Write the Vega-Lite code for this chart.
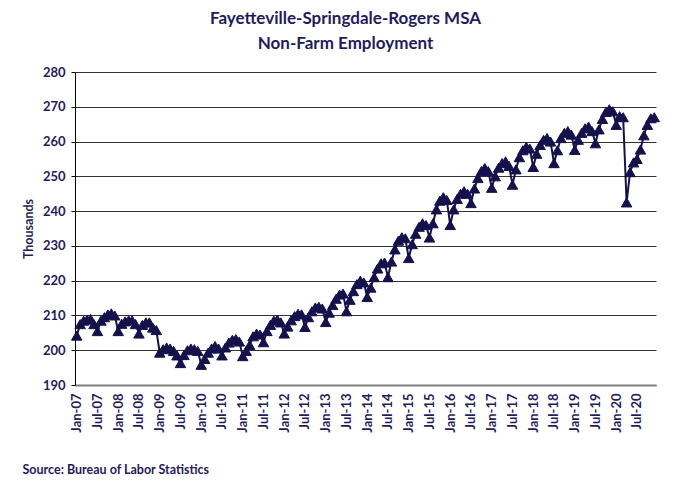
{
  "$schema": "https://vega.github.io/schema/vega-lite/v6.json",
  "width": 581,
  "height": 313,
  "autosize": {"type": "none"},
  "padding": {"left": 75, "top": 72, "right": 32, "bottom": 96},
  "background": "white",
  "config": {"view": {"stroke": null}, "font": "Lato"},
  "title": {
    "text": ["Fayetteville-Springdale-Rogers MSA", "Non-Farm Employment"],
    "font": "Lato", "fontSize": 17, "fontWeight": "bold", "color": "#1f1c5c",
    "anchor": "middle", "dx": -20, "offset": 13, "lineHeight": 25
  },
  "data": {"values": [
    {"m":"Jan-07","v":204.2},{"m":"Feb-07","v":207.5},{"m":"Mar-07","v":208.5},{"m":"Apr-07","v":208.8},{"m":"May-07","v":209.0},{"m":"Jun-07","v":207.5},{"m":"Jul-07","v":205.5},{"m":"Aug-07","v":208.5},{"m":"Sep-07","v":209.5},{"m":"Oct-07","v":210.3},{"m":"Nov-07","v":210.6},{"m":"Dec-07","v":210.0},
    {"m":"Jan-08","v":205.5},{"m":"Feb-08","v":207.6},{"m":"Mar-08","v":208.3},{"m":"Apr-08","v":208.6},{"m":"May-08","v":208.6},{"m":"Jun-08","v":207.5},{"m":"Jul-08","v":204.8},{"m":"Aug-08","v":207.3},{"m":"Sep-08","v":208.0},{"m":"Oct-08","v":208.0},{"m":"Nov-08","v":206.5},{"m":"Dec-08","v":205.8},
    {"m":"Jan-09","v":199.3},{"m":"Feb-09","v":200.3},{"m":"Mar-09","v":200.8},{"m":"Apr-09","v":200.5},{"m":"May-09","v":199.8},{"m":"Jun-09","v":198.5},{"m":"Jul-09","v":196.3},{"m":"Aug-09","v":198.6},{"m":"Sep-09","v":200.0},{"m":"Oct-09","v":200.5},{"m":"Nov-09","v":200.3},{"m":"Dec-09","v":199.8},
    {"m":"Jan-10","v":195.8},{"m":"Feb-10","v":197.5},{"m":"Mar-10","v":199.3},{"m":"Apr-10","v":200.5},{"m":"May-10","v":201.2},{"m":"Jun-10","v":200.5},{"m":"Jul-10","v":198.5},{"m":"Aug-10","v":200.8},{"m":"Sep-10","v":202.2},{"m":"Oct-10","v":203.0},{"m":"Nov-10","v":203.2},{"m":"Dec-10","v":202.5},
    {"m":"Jan-11","v":198.3},{"m":"Feb-11","v":199.8},{"m":"Mar-11","v":201.5},{"m":"Apr-11","v":204.0},{"m":"May-11","v":204.8},{"m":"Jun-11","v":204.5},{"m":"Jul-11","v":202.3},{"m":"Aug-11","v":205.5},{"m":"Sep-11","v":207.3},{"m":"Oct-11","v":208.5},{"m":"Nov-11","v":208.8},{"m":"Dec-11","v":208.0},
    {"m":"Jan-12","v":204.8},{"m":"Feb-12","v":206.8},{"m":"Mar-12","v":208.6},{"m":"Apr-12","v":209.8},{"m":"May-12","v":210.5},{"m":"Jun-12","v":210.3},{"m":"Jul-12","v":206.7},{"m":"Aug-12","v":209.5},{"m":"Sep-12","v":211.2},{"m":"Oct-12","v":212.3},{"m":"Nov-12","v":212.5},{"m":"Dec-12","v":212.0},
    {"m":"Jan-13","v":208.1},{"m":"Feb-13","v":210.8},{"m":"Mar-13","v":213.0},{"m":"Apr-13","v":214.8},{"m":"May-13","v":216.0},{"m":"Jun-13","v":216.3},{"m":"Jul-13","v":211.2},{"m":"Aug-13","v":214.5},{"m":"Sep-13","v":217.0},{"m":"Oct-13","v":219.0},{"m":"Nov-13","v":220.0},{"m":"Dec-13","v":219.5},
    {"m":"Jan-14","v":215.3},{"m":"Feb-14","v":218.0},{"m":"Mar-14","v":221.0},{"m":"Apr-14","v":223.5},{"m":"May-14","v":225.0},{"m":"Jun-14","v":225.2},{"m":"Jul-14","v":221.0},{"m":"Aug-14","v":225.5},{"m":"Sep-14","v":229.0},{"m":"Oct-14","v":231.5},{"m":"Nov-14","v":232.5},{"m":"Dec-14","v":232.2},
    {"m":"Jan-15","v":226.5},{"m":"Feb-15","v":230.5},{"m":"Mar-15","v":233.5},{"m":"Apr-15","v":235.5},{"m":"May-15","v":236.5},{"m":"Jun-15","v":236.0},{"m":"Jul-15","v":232.4},{"m":"Aug-15","v":236.5},{"m":"Sep-15","v":240.5},{"m":"Oct-15","v":243.0},{"m":"Nov-15","v":244.0},{"m":"Dec-15","v":243.2},
    {"m":"Jan-16","v":236.0},{"m":"Feb-16","v":240.5},{"m":"Mar-16","v":243.5},{"m":"Apr-16","v":245.0},{"m":"May-16","v":245.7},{"m":"Jun-16","v":245.0},{"m":"Jul-16","v":242.3},{"m":"Aug-16","v":246.5},{"m":"Sep-16","v":249.5},{"m":"Oct-16","v":251.5},{"m":"Nov-16","v":252.4},{"m":"Dec-16","v":251.5},
    {"m":"Jan-17","v":246.7},{"m":"Feb-17","v":250.0},{"m":"Mar-17","v":252.5},{"m":"Apr-17","v":253.8},{"m":"May-17","v":254.3},{"m":"Jun-17","v":253.0},{"m":"Jul-17","v":247.6},{"m":"Aug-17","v":252.0},{"m":"Sep-17","v":255.5},{"m":"Oct-17","v":257.5},{"m":"Nov-17","v":258.5},{"m":"Dec-17","v":258.0},
    {"m":"Jan-18","v":252.7},{"m":"Feb-18","v":256.5},{"m":"Mar-18","v":259.0},{"m":"Apr-18","v":260.5},{"m":"May-18","v":261.0},{"m":"Jun-18","v":260.0},{"m":"Jul-18","v":253.8},{"m":"Aug-18","v":257.5},{"m":"Sep-18","v":261.0},{"m":"Oct-18","v":262.5},{"m":"Nov-18","v":263.0},{"m":"Dec-18","v":262.0},
    {"m":"Jan-19","v":257.6},{"m":"Feb-19","v":260.5},{"m":"Mar-19","v":262.5},{"m":"Apr-19","v":263.8},{"m":"May-19","v":264.3},{"m":"Jun-19","v":263.0},{"m":"Jul-19","v":259.5},{"m":"Aug-19","v":263.5},{"m":"Sep-19","v":266.5},{"m":"Oct-19","v":268.5},{"m":"Nov-19","v":269.3},{"m":"Dec-19","v":268.7},
    {"m":"Jan-20","v":264.8},{"m":"Feb-20","v":267.3},{"m":"Mar-20","v":267.0},{"m":"Apr-20","v":242.5},{"m":"May-20","v":251.2},{"m":"Jun-20","v":254.0},{"m":"Jul-20","v":255.0},{"m":"Aug-20","v":257.7},{"m":"Sep-20","v":261.8},{"m":"Oct-20","v":264.8},{"m":"Nov-20","v":266.7},{"m":"Dec-20","v":267.0}
  ]},
  "encoding": {
    "x": {
      "field": "m", "type": "ordinal", "sort": null,
      "scale": {"type": "point", "padding": 0.5},
      "axis": {
        "values": ["Jan-07","Jul-07","Jan-08","Jul-08","Jan-09","Jul-09","Jan-10","Jul-10","Jan-11","Jul-11","Jan-12","Jul-12","Jan-13","Jul-13","Jan-14","Jul-14","Jan-15","Jul-15","Jan-16","Jul-16","Jan-17","Jul-17","Jan-18","Jul-18","Jan-19","Jul-19","Jan-20","Jul-20"],
        "labelAngle": -90, "labelFont": "Lato", "labelFontSize": 13, "labelFontWeight": "bold",
        "labelColor": "#1f1c5c", "labelPadding": 8, "ticks": false, "grid": false,
        "domainColor": "#808080", "domainWidth": 2,
        "title": "Source: Bureau of Labor Statistics",
        "titleFont": "Lato", "titleFontSize": 12.5, "titleFontWeight": "bold", "titleColor": "#1f1c5c",
        "titleAnchor": "start", "titleAlign": "left", "titleBaseline": "top",
        "titleX": -53, "titleY": 78
      }
    },
    "y": {
      "field": "v", "type": "quantitative",
      "scale": {"domain": [190, 280], "nice": false, "zero": false},
      "axis": {
        "values": [190,200,210,220,230,240,250,260,270,280],
        "title": "Thousands", "titleFont": "Lato", "titleFontSize": 12.5, "titleFontWeight": "bold",
        "titleColor": "#1f1c5c", "titlePadding": 7,
        "labelFont": "Lato", "labelFontSize": 13, "labelFontWeight": "bold", "labelColor": "#1f1c5c",
        "labelPadding": 6, "tickSize": 4, "tickColor": "#000000", "domainColor": "#000000", "domainWidth": 1,
        "gridColor": "#333333", "gridWidth": 1
      }
    }
  },
  "layer": [
    {"mark": {"type": "line", "color": "#14114c", "strokeWidth": 2}},
    {"mark": {"type": "point", "shape": "triangle-up", "filled": true, "size": 110, "color": "#14114c", "opacity": 1, "stroke": "#14114c", "strokeWidth": 1}}
  ]
}
